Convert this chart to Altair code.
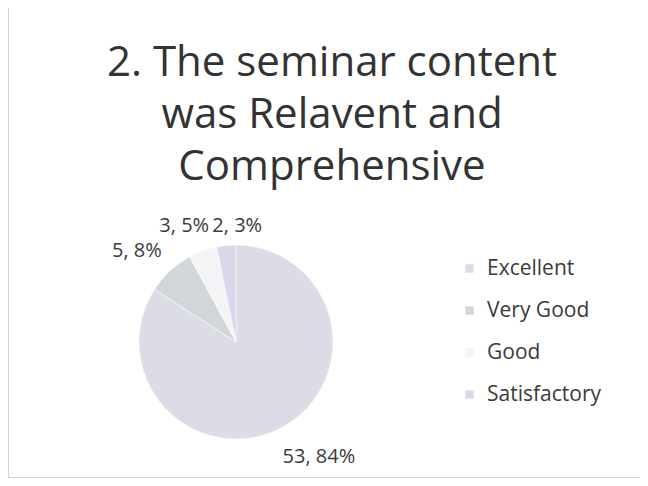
import altair as alt
import pandas as pd

categories = ["Excellent", "Very Good", "Good", "Satisfactory"]
counts = [53, 5, 3, 2]
percents = [84, 8, 5, 3]
title_lines = ["2. The seminar content", "was Relavent and", "Comprehensive"]
colors = ["#dcdce6", "#d3d6d9", "#f4f4f6", "#d8d8ea"]

df = pd.DataFrame({
    "category": categories,
    "count": counts,
    "pct": percents,
    "order": list(range(len(categories))),
})
df["label"] = [f"{c}, {p}%" for c, p in zip(counts, percents)]
total = sum(counts)

W, H = 632, 470
cx, cy, R = 228, 334, 97
FONT = "Open Sans"
TXT = "#3a3a3a"

theta_scale = alt.Scale(domain=[0, total])

pie = alt.Chart(df).mark_arc(radius=R, x=cx, y=cy, stroke="white", strokeWidth=0.5).encode(
    theta=alt.Theta("count:Q", stack=True, scale=theta_scale),
    order=alt.Order("order:Q", sort="ascending"),
    color=alt.Color(
        "category:N",
        scale=alt.Scale(domain=categories, range=colors),
        sort=categories,
        legend=alt.Legend(
            title=None,
            orient="none",
            legendX=451,
            legendY=250,
            symbolType="square",
            symbolSize=70,
            symbolStrokeWidth=0,
            labelFont=FONT,
            labelFontSize=21,
            labelColor=TXT,
            labelLimit=300,
            labelOffset=7,
            rowPadding=20,
        ),
    ),
)

lab_base = (
    alt.Chart(df)
    .transform_window(cum="sum(count)", sort=[alt.SortField("order")], frame=[None, 0])
    .transform_calculate(mid="datum.cum - datum.count / 2")
)

# label placement per slice (layout only)
label_style = {
    "Excellent": dict(radius=142, dx=15, dy=-10),
    "Very Good": dict(radius=128, dx=-12, dy=3),
    "Good": dict(radius=128, dx=-8, dy=4),
    "Satisfactory": dict(radius=128, dx=14, dy=11),
}
label_layers = []
for cat, st in label_style.items():
    label_layers.append(
        lab_base.transform_filter(alt.datum.category == cat)
        .mark_text(
            x=cx, y=cy, radius=st["radius"], dx=st["dx"], dy=st["dy"],
            font=FONT, fontSize=20, color=TXT,
        )
        .encode(
            theta=alt.Theta("mid:Q", stack=None, scale=theta_scale),
            text="label:N",
        )
    )

dummy = alt.Chart(pd.DataFrame({"a": [0]}))
title = dummy.mark_text(
    text=title_lines, x=324, y=35, baseline="top", align="center",
    font=FONT, fontSize=42, lineHeight=52, color="#333333",
).encode(opacity=alt.value(1))

frame_left = dummy.mark_rule(color="#d4d4d4", strokeWidth=1).encode(
    x=alt.value(0.5), y=alt.value(0), y2=alt.value(H)
)
frame_bottom = dummy.mark_rule(color="#d4d4d4", strokeWidth=1).encode(
    x=alt.value(0), x2=alt.value(W), y=alt.value(H - 0.5)
)

chart = alt.layer(frame_left, frame_bottom, pie, *label_layers, title).properties(
    width=W, height=H, padding=0, autosize="none", background="white"
).configure_view(stroke=None)

chart.save("out.html", embed_options={"renderer": "svg", "actions": False})
